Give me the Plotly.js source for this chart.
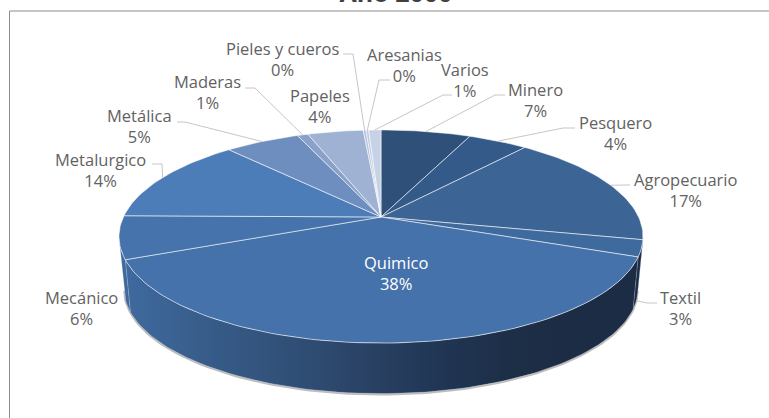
<!DOCTYPE html>
<html><head><meta charset="utf-8">
<script src="https://cdn.plot.ly/plotly-3.0.0.min.js"></script>
<style>html,body{margin:0;padding:0;background:#fff}#c{width:769px;height:418px}</style>
</head><body><div id="c"></div>
<script>
const categories = ["Minero","Pesquero","Agropecuario","Textil","Quimico","Mecánico","Metalurgico","Metálica","Maderas","Papeles","Pieles y cueros","Aresanias","Varios"];
const shares = [6.6,4.4,17.4,2.5,37.8,6.5,13.1,5.5,0.8,4.1,0.2,0.2,0.9];
const percentLabels = ["7%","4%","17%","3%","38%","6%","14%","5%","1%","4%","0%","0%","1%"];
const sliceColors = ["#2F5078","#335A88","#3C6494","#3F6A9E","#4572AA","#4673AB","#4C7DB9","#6E8EBF","#8AA2CA","#A0B2D3","#B4C2DC","#BECAE1","#C8D2E6"];
const labelPos = [[535,100],[615,133],[686,190],[680,308],[396,273],[81,308],[100,170],[139,126],[207,92],[320,106],[282,59],[404,65],[465,80]];
const elbows = [[[505,95],[495,95]],[[575,128],[563,128]],[[630,185],[612,185]],[[657,303],[647,303]],null,null,[[152,164],[162,164]],[[177,122],[185,122]],[[245,88],[255,88]],null,[[343,54],[353,54]],[[390,80],[379,80]],[[452,95],[443,95]]];

// Perspective projection of the pie disc (matches the tilted look)
const P = {cx:381, cy:217, A:257.6, B:103, k:0.183, drop:53, shrink:0.98};
function proj(deg, lower){
  const t = deg*Math.PI/180, u = Math.sin(t), v = Math.cos(t), w = 1+P.k*v;
  const s = lower ? P.shrink : 1;
  return [P.cx + s*P.A*u/w, P.cy - s*P.B*v/w + (lower ? P.drop : 0)];
}
const total = shares.reduce((a,b)=>a+b,0);
let acc = 0;
const spans = shares.map(s=>{const a=acc/total*360; acc+=s; return [a,acc/total*360];});
function arc(a,b,lower){const n=Math.max(2,Math.ceil(Math.abs(b-a)/1.5)),o=[];
  for(let i=0;i<=n;i++)o.push(proj(a+(b-a)*i/n,lower));return o;}

const traces = [];
const XY = pts=>({x:pts.map(p=>p[0]),y:pts.map(p=>p[1])});
// shadow edge beneath the wall
const tan1 = 101, tan2 = 259;
traces.push({...XY(arc(tan1,tan2,true).map(p=>[p[0],p[1]+1])),mode:'lines',line:{color:'#BDBDBD',width:2},hoverinfo:'skip'});
// side wall, one piece per front-facing slice
const wallStops = [[0,'#3F6A9E'],[0.15,'#385D8B'],[0.35,'#2F4D74'],[0.5,'#283F61'],[0.65,'#1F3350'],[0.78,'#1C2C44'],[1,'#1C2C44']];
const wallX0 = proj(tan2,true)[0], wallX1 = proj(tan1,true)[0];
function wallScale(x){return (x-wallX0)/(wallX1-wallX0);}
function wallColor(f){f=Math.max(0,Math.min(1,f));
  const hex=h=>[1,3,5].map(i=>parseInt(h.substr(i,2),16));
  for(let i=1;i<wallStops.length;i++){if(f<=wallStops[i][0]){
    const a=wallStops[i-1],b=wallStops[i],r=(f-a[0])/(b[0]-a[0]||1),A=hex(a[1]),B=hex(b[1]);
    return 'rgb('+A.map((c,j)=>Math.round(c+(B[j]-c)*r)).join(',')+')';}}
  return wallStops[wallStops.length-1][1];}
spans.forEach((sp,i)=>{
  const a=Math.max(sp[0],tan1), b=Math.min(sp[1],tan2);
  if(a>=b) return;
  const top=arc(a,b,false), low=arc(a,b,true).reverse(), poly=top.concat(low);
  poly.push(poly[0]);
  const xs=poly.map(p=>p[0]), x0=Math.min(...xs), x1=Math.max(...xs);
  const n=8, scale=[];
  for(let j=0;j<=n;j++){scale.push([j/n,wallColor(wallScale(x0+(x1-x0)*j/n))]);}
  traces.push({...XY(poly),mode:'lines',fill:'toself',
    fillgradient:{type:'horizontal',colorscale:scale},
    line:{color:'rgba(205,215,230,0.35)',width:0.6},hoverinfo:'skip'});
});
// top face
spans.forEach((sp,i)=>{
  const poly=[[P.cx,P.cy]].concat(arc(sp[0],sp[1],false)); poly.push([P.cx,P.cy]);
  traces.push({...XY(poly),mode:'lines',fill:'toself',fillcolor:sliceColors[i],
    line:{color:'rgba(255,255,255,0.55)',width:1},name:categories[i],hoverinfo:'name'});
});
// leader lines
spans.forEach((sp,i)=>{
  if(!elbows[i]) return;
  const mid=(sp[0]+sp[1])/2;
  const end = (i===3) ? proj(mid,true) : proj(mid,false);
  traces.push({...XY(elbows[i].concat([end])),mode:'lines',line:{color:'#C6C6C6',width:1},hoverinfo:'skip'});
});
const annotations = categories.map((c,i)=>({
  x:labelPos[i][0],y:labelPos[i][1],xref:'x',yref:'y',showarrow:false,align:'center',
  text:c+'<br>'+percentLabels[i],
  font:{family:'"Open Sans", sans-serif',size:16.5,color:i===4?'#FFFFFF':'#626262'}
}));
const layout = {
  width:769,height:418,margin:{l:0,r:0,t:0,b:0},paper_bgcolor:'#fff',plot_bgcolor:'#fff',showlegend:false,
  title:{text:'<b>Año 2000</b>',x:396/769,xanchor:'center',xref:'paper',y:1-2/418,yanchor:'bottom',yref:'container',
    font:{family:'"Open Sans", sans-serif',size:25,color:'#404040'}},
  xaxis:{range:[0,769],visible:false,fixedrange:true},
  yaxis:{range:[418,0],visible:false,fixedrange:true},
  annotations,
  shapes:[
    {type:'line',xref:'x',yref:'y',x0:9.5,x1:9.5,y0:11,y1:418,line:{color:'#8C8C8C',width:1}},
    {type:'line',xref:'x',yref:'y',x0:9.5,x1:769,y0:11,y1:11,line:{color:'#8C8C8C',width:1}}
  ]
};
Plotly.newPlot('c',traces,layout,{displayModeBar:false,staticPlot:true});
</script></body></html>
